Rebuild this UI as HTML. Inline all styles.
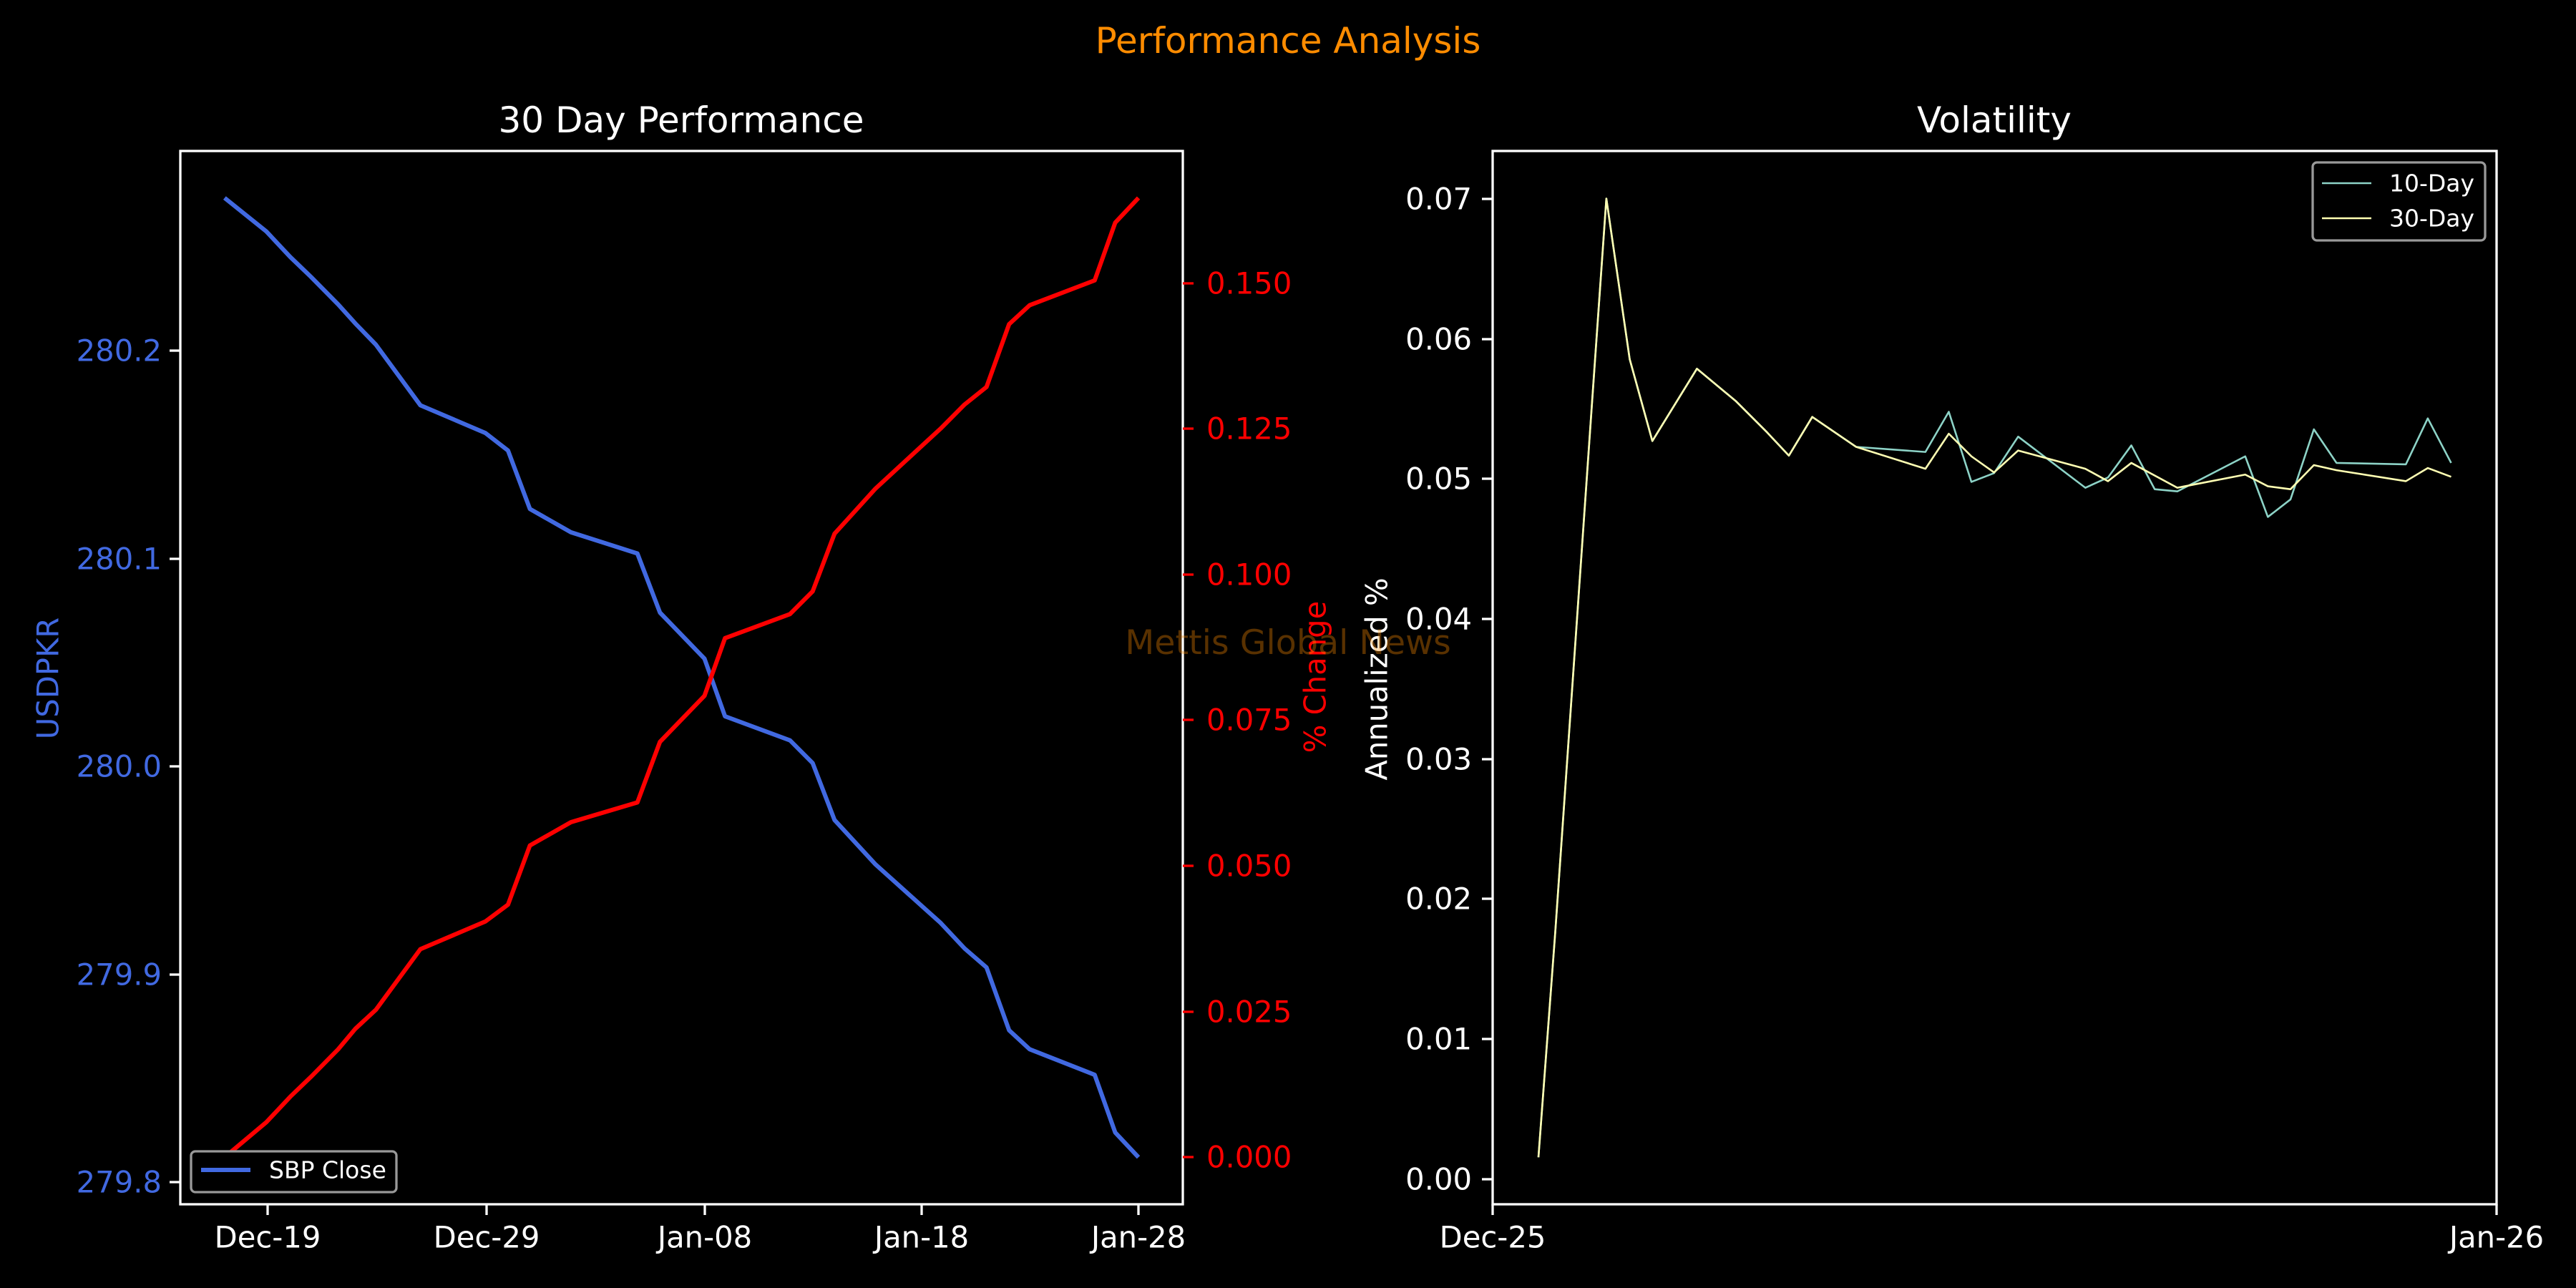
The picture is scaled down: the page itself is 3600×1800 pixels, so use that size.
<!DOCTYPE html>
<html><head><meta charset="utf-8"><style>html,body{margin:0;padding:0;background:#000}svg{display:block}</style></head>
<body>
<svg width="3600" height="1800" viewBox="0 0 3600 1800" xmlns="http://www.w3.org/2000/svg" font-family="'DejaVu Sans','Liberation Sans',sans-serif">
<rect width="3600" height="1800" fill="#000"/>
<text x="1800" y="57" fill="#ff8c00" font-size="50" text-anchor="middle" dominant-baseline="central">Performance Analysis</text>
<!-- LEFT AXES -->
<text x="952" y="168" fill="#fff" font-size="50" text-anchor="middle" dominant-baseline="central">30 Day Performance</text>
<g transform="translate(200,150) scale(0.9567,1.0204)" fill="none" stroke-linejoin="round">
<polyline vector-effect="non-scaling-stroke" stroke="#4169e1" stroke-width="6" points="119,124 180,170 215,205 245,232 285,270 310,296 340,325 405,408 500,446 533,470 565,550 625,582 722,611 755,692 820,755 850,834 945,867 978,898 1010,976 1070,1037 1165,1117 1200,1152 1232,1178 1265,1264 1295,1290 1390,1325 1420,1404 1454,1438"/>
<polyline vector-effect="non-scaling-stroke" stroke="#ff0000" stroke-width="6" points="119,1438 180,1390 215,1355 245,1328 285,1290 310,1262 340,1236 405,1153 500,1115 533,1092 565,1011 625,979 722,952 755,869 820,806 850,727 945,694 978,663 1010,584 1070,522 1165,440 1200,407 1232,383 1265,297 1295,271 1390,237 1420,158 1454,124"/>
</g>
<rect x="252" y="211" width="1401" height="1472" fill="none" stroke="#fff" stroke-width="3.3"/>
<g stroke="#fff" stroke-width="3.3">
<line x1="374" y1="1683" x2="374" y2="1698"/><line x1="680" y1="1683" x2="680" y2="1698"/><line x1="985" y1="1683" x2="985" y2="1698"/><line x1="1288" y1="1683" x2="1288" y2="1698"/><line x1="1591" y1="1683" x2="1591" y2="1698"/>
<line x1="252" y1="1652" x2="237" y2="1652"/><line x1="252" y1="1362" x2="237" y2="1362"/><line x1="252" y1="1071" x2="237" y2="1071"/><line x1="252" y1="781" x2="237" y2="781"/><line x1="252" y1="490" x2="237" y2="490"/>
</g>
<g stroke="#ff0000" stroke-width="3.3">
<line x1="1653" y1="1617" x2="1668" y2="1617"/><line x1="1653" y1="1414" x2="1668" y2="1414"/><line x1="1653" y1="1210" x2="1668" y2="1210"/><line x1="1653" y1="1006" x2="1668" y2="1006"/><line x1="1653" y1="803" x2="1668" y2="803"/><line x1="1653" y1="599" x2="1668" y2="599"/><line x1="1653" y1="396" x2="1668" y2="396"/>
</g>
<g fill="#fff" font-size="41.7" text-anchor="middle" dominant-baseline="central">
<text x="374" y="1729">Dec-19</text><text x="680" y="1729">Dec-29</text><text x="985" y="1729">Jan-08</text><text x="1288" y="1729">Jan-18</text><text x="1591" y="1729">Jan-28</text>
</g>
<g fill="#4169e1" font-size="41.7" text-anchor="end" dominant-baseline="central">
<text x="226" y="1652">279.8</text><text x="226" y="1362">279.9</text><text x="226" y="1071">280.0</text><text x="226" y="781">280.1</text><text x="226" y="490">280.2</text>
</g>
<g fill="#ff0000" font-size="41.7" text-anchor="start" dominant-baseline="central">
<text x="1686" y="1617">0.000</text><text x="1686" y="1414">0.025</text><text x="1686" y="1210">0.050</text><text x="1686" y="1006">0.075</text><text x="1686" y="803">0.100</text><text x="1686" y="599">0.125</text><text x="1686" y="396">0.150</text>
</g>
<text transform="translate(67,948) rotate(-90)" fill="#4169e1" font-size="41.7" text-anchor="middle" dominant-baseline="central">USDPKR</text>
<text transform="translate(1838,946) rotate(-90)" fill="#ff0000" font-size="41.7" text-anchor="middle" dominant-baseline="central">% Change</text>
<rect x="267" y="1609" width="287" height="57" rx="6" fill="#000" stroke="#999" stroke-width="3.3"/>
<line x1="281" y1="1635" x2="350" y2="1635" stroke="#4169e1" stroke-width="6"/>
<text x="376" y="1635" fill="#fff" font-size="33" dominant-baseline="central">SBP Close</text>
<!-- RIGHT AXES -->
<text x="2787" y="168" fill="#fff" font-size="50" text-anchor="middle" dominant-baseline="central">Volatility</text>
<g transform="translate(1900,150) scale(1.0204)" fill="none" stroke-linejoin="round">
<polyline vector-effect="non-scaling-stroke" stroke="#8dd3c7" stroke-width="2.6" points="245,1438 268,1130 318,410 338,125 370,345 401,457 462,358 515,402 558,445 588,477 620,424 680,465 775,472 807,417 838,513 869,501 902,451 994,521 1025,507 1057,463 1089,523 1120,526 1213,478 1244,561 1275,537 1307,441 1338,487 1433,489 1463,426 1495,487"/>
<polyline vector-effect="non-scaling-stroke" stroke="#ffffb3" stroke-width="2.6" points="245,1438 268,1130 318,410 338,125 370,345 401,457 462,358 515,402 558,445 588,477 620,424 680,465 775,495 807,447 838,478 869,500 902,470 994,495 1025,512 1057,487 1120,521 1213,503 1244,519 1275,523 1307,490 1338,497 1433,512 1463,494 1495,506"/>
</g>
<rect x="2086" y="211" width="1403" height="1472" fill="none" stroke="#fff" stroke-width="3.3"/>
<g stroke="#fff" stroke-width="3.3">
<line x1="2086" y1="1683" x2="2086" y2="1698"/><line x1="3489" y1="1683" x2="3489" y2="1698"/>
<line x1="2086" y1="1648" x2="2071" y2="1648"/><line x1="2086" y1="1452" x2="2071" y2="1452"/><line x1="2086" y1="1256" x2="2071" y2="1256"/><line x1="2086" y1="1061" x2="2071" y2="1061"/><line x1="2086" y1="865" x2="2071" y2="865"/><line x1="2086" y1="669" x2="2071" y2="669"/><line x1="2086" y1="474" x2="2071" y2="474"/><line x1="2086" y1="278" x2="2071" y2="278"/>
</g>
<g fill="#fff" font-size="41.7" text-anchor="middle" dominant-baseline="central">
<text x="2086" y="1729">Dec-25</text><text x="3489" y="1729">Jan-26</text>
</g>
<g fill="#fff" font-size="41.7" text-anchor="end" dominant-baseline="central">
<text x="2057" y="1648">0.00</text><text x="2057" y="1452">0.01</text><text x="2057" y="1256">0.02</text><text x="2057" y="1061">0.03</text><text x="2057" y="865">0.04</text><text x="2057" y="669">0.05</text><text x="2057" y="474">0.06</text><text x="2057" y="278">0.07</text>
</g>
<text transform="translate(1924,949) rotate(-90)" fill="#fff" font-size="41.7" text-anchor="middle" dominant-baseline="central">Annualized %</text>
<rect x="3232" y="227" width="241" height="109" rx="6" fill="#000" stroke="#999" stroke-width="3.3"/>
<line x1="3245" y1="256" x2="3314" y2="256" stroke="#8dd3c7" stroke-width="2.6"/>
<line x1="3245" y1="305" x2="3314" y2="305" stroke="#ffffb3" stroke-width="2.6"/>
<text x="3339" y="256" fill="#fff" font-size="33" dominant-baseline="central">10-Day</text>
<text x="3339" y="305" fill="#fff" font-size="33" dominant-baseline="central">30-Day</text>
<!-- watermark -->
<text x="1800" y="914" fill="#ff8c00" fill-opacity="0.35" font-size="47.5" text-anchor="middle">Mettis Global News</text>
</svg>
</body></html>
